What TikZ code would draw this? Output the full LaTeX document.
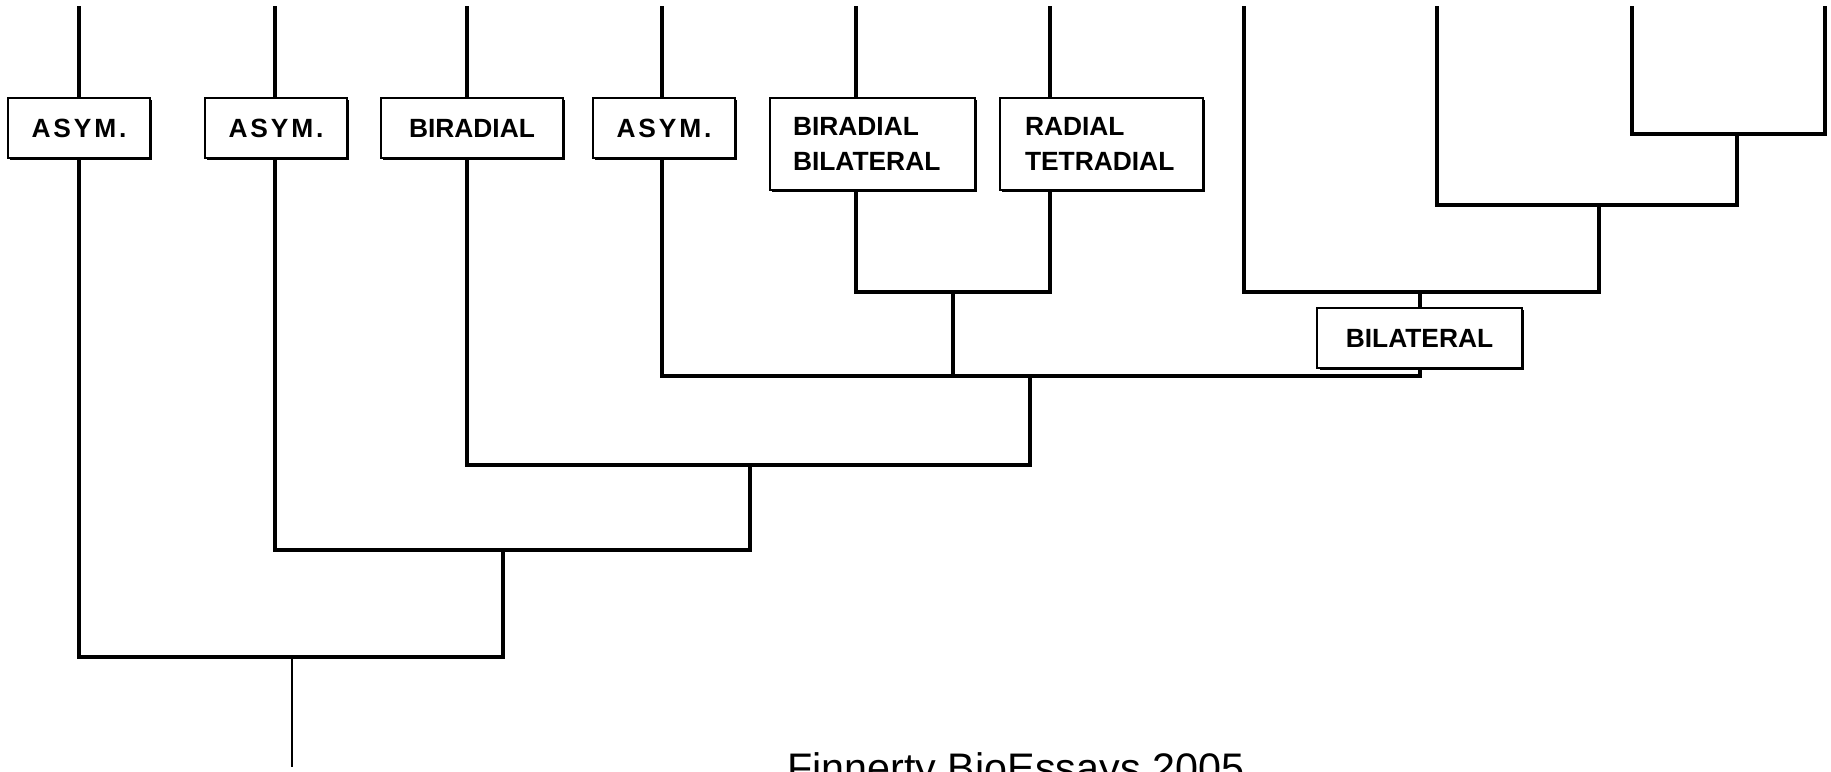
\documentclass[tikz,border=0pt]{standalone}
\usepackage{fontspec}
\setmainfont{Liberation Sans}
\newfontfamily\labfont{Liberation Sans}
\usetikzlibrary{shadows}
\begin{document}
\begin{tikzpicture}[x=0.02cm,y=-0.02cm,
  vl/.style={line width=1.9pt,line cap=rect},
  hl/.style={line width=2.6pt,line cap=rect},
  box/.style={draw=black,line width=1.1pt,fill=white,inner sep=0pt,
    minimum height=1.2cm,
    font=\labfont\bfseries\fontsize{15}{20.4}\selectfont,
    drop shadow={shadow xshift=1.4pt,shadow yshift=-1.4pt,fill=black,opacity=1}},
  boxtwo/.style={box,minimum height=1.84cm,align=left,inner xsep=0.46cm}]
\clip (0,0) rectangle (1831,771);
\fill[white] (0,0) rectangle (1831,771);
% top ends
\coordinate (t1) at (79,8);
\coordinate (t2) at (275,8);
\coordinate (t3) at (467,8);
\coordinate (t4) at (662,8);
\coordinate (t5) at (856,8);
\coordinate (t6) at (1050,8);
\coordinate (t7) at (1244,8);
\coordinate (t8) at (1437,8);
\coordinate (t9) at (1632,8);
\coordinate (t10) at (1825,8);
% junctions
\coordinate (j1) at (1737,134);
\coordinate (j2) at (1599,205);
\coordinate (j3) at (953,292);
\coordinate (j3b) at (1420,292);
\coordinate (j4) at (1030,376);
\coordinate (j5) at (750,465);
\coordinate (j6) at (503,550);
\coordinate (j7) at (292,657);
\coordinate (root) at (292,767);
% boxes
\node[box,minimum width=2.84cm] (a1) at (79,128) {A\kern1.6pt S\kern1.6pt Y\kern1.6pt M\kern1.6pt .};
\node[box,minimum width=2.84cm] (a2) at (276,128) {A\kern1.6pt S\kern1.6pt Y\kern1.6pt M\kern1.6pt .};
\node[box,minimum width=3.64cm] (a3) at (472,128) {BIRADIAL};
\node[box,minimum width=2.84cm] (a4) at (664,128) {A\kern1.6pt S\kern1.6pt Y\kern1.6pt M\kern1.6pt .};
\node[boxtwo,text width=3.18cm] (bb) at (872.5,144) {BIRADIAL\\BILATERAL};
\node[boxtwo,text width=3.06cm,inner xsep=0.5cm] (rt) at (1101.5,144) {RADIAL\\TETRADIAL};
\node[box,minimum width=4.10cm] (bil) at (1419.5,338) {BILATERAL};
% horizontals
\draw[hl] (t9 |- j1) -- (t10 |- j1);
\draw[hl] (t8 |- j2) -- (j1 |- j2);
\draw[hl] (t7 |- j3b) -- (j2 |- j3b);
\draw[hl] (t5 |- j3) -- (t6 |- j3);
\draw[hl] (t4 |- j4) -- (j3b |- j4);
\draw[hl] (t3 |- j5) -- (j4 |- j5);
\draw[hl] (t2 |- j6) -- (j5 |- j6);
\draw[hl] (t1 |- j7) -- (j6 |- j7);
% verticals
\draw[vl] (t10) -- (t10 |- j1);
\draw[vl] (t9) -- (t9 |- j1);
\draw[vl] (j1) -- (j1 |- j2);
\draw[vl] (t8) -- (t8 |- j2);
\draw[vl] (j2) -- (j2 |- j3b);
\draw[vl] (t7) -- (t7 |- j3b);
\draw[vl] (j3b) -- (bil.north -| j3b);
\draw[vl] (bil.south -| j3b) -- (j3b |- j4);
\draw[vl] (t6) -- (rt.north -| t6);
\draw[vl] (rt.south -| t6) -- (t6 |- j3);
\draw[vl] (t5) -- (bb.north -| t5);
\draw[vl] (bb.south -| t5) -- (t5 |- j3);
\draw[vl] (j3) -- (j3 |- j4);
\draw[vl] (t4) -- (a4.north -| t4);
\draw[vl] (a4.south -| t4) -- (t4 |- j4);
\draw[vl] (j4) -- (j4 |- j5);
\draw[vl] (t3) -- (a3.north -| t3);
\draw[vl] (a3.south -| t3) -- (t3 |- j5);
\draw[vl] (j5) -- (j5 |- j6);
\draw[vl] (t2) -- (a2.north -| t2);
\draw[vl] (a2.south -| t2) -- (t2 |- j6);
\draw[vl] (j6) -- (j6 |- j7);
\draw[vl] (t1) -- (a1.north -| t1);
\draw[vl] (a1.south -| t1) -- (t1 |- j7);
\draw[line width=1.5pt] (j7) -- (root);
% caption
\node[font=\fontsize{23.5}{28}\selectfont,anchor=base west,inner sep=0pt] (cap) at (787,782) {Finnerty BioEssays 2005};
\end{tikzpicture}
\end{document}
